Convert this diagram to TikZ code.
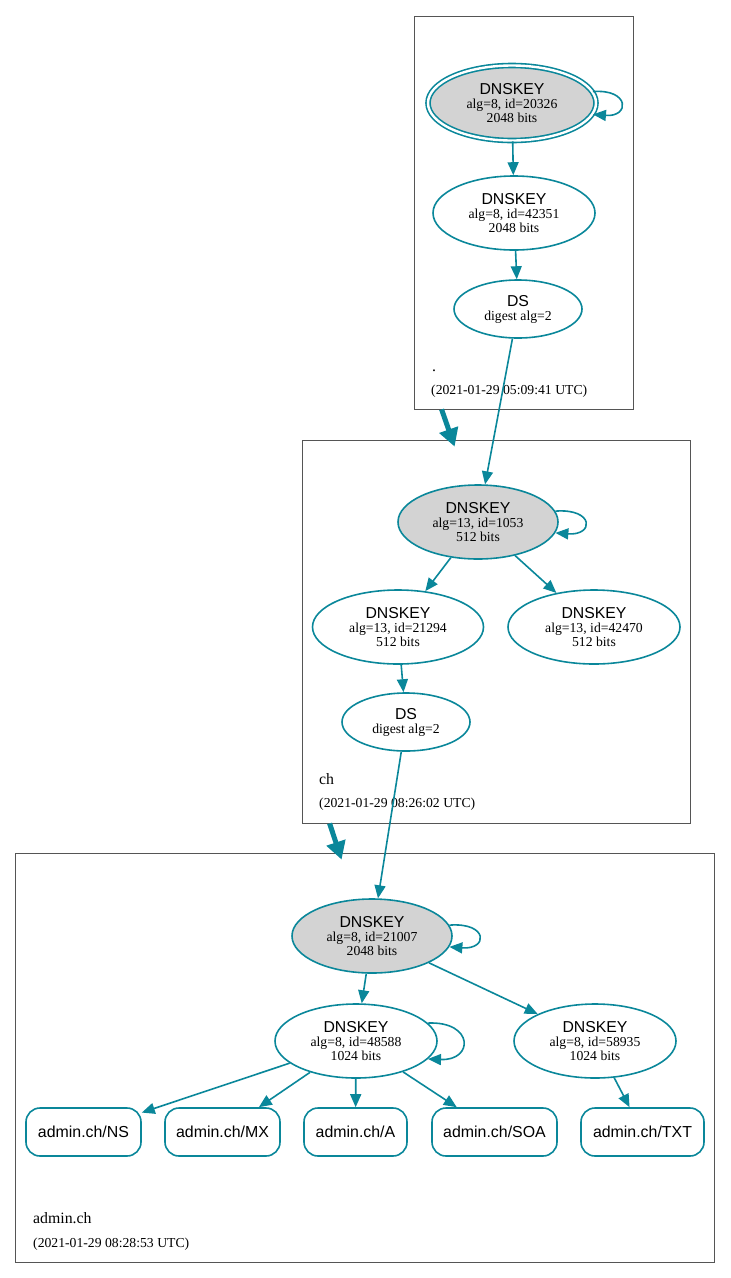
\documentclass[tikz,border=0pt]{standalone}
\usepackage{fontspec}
\setmainfont{Liberation Serif}
\newfontfamily\hv{Liberation Sans}
\usetikzlibrary{shapes.geometric,arrows.meta,calc}
\definecolor{dteal}{HTML}{0A879A}
\definecolor{kgray}{HTML}{D3D3D3}
\definecolor{cgray}{HTML}{555555}
\newcommand{\kt}[2]{{\hv\fontsize{15.8}{16}\selectfont DNSKEY}\\[0.4pt] #1\\ #2}
\newcommand{\dt}{{\hv\fontsize{15.8}{16}\selectfont DS}\\[0.4pt] digest alg=2}
\tikzset{
  key/.style={ellipse, draw=dteal, line width=1.6pt, inner sep=0pt, align=center,
    font=\fontsize{13.7}{13.6}\selectfont},
  ksk/.style={key, fill=kgray},
  rec/.style={rectangle, rounded corners=14pt, draw=dteal, line width=1.6pt,
    minimum height=48pt, inner sep=0pt, font=\hv\fontsize{15.9}{16}\selectfont},
  edge/.style={draw=dteal, line width=1.6pt, -{Triangle[length=13pt,width=11pt]}},
  zoneedge/.style={draw=dteal, line width=5pt, -{Triangle[length=18pt,width=19pt]}},
  cluster/.style={draw=cgray, line width=0.8pt, rectangle, inner sep=0pt},
  zlabel/.style={anchor=base west, inner sep=0pt, font=\fontsize{15.8}{16}\selectfont},
  ztime/.style={anchor=base west, inner sep=0pt, font=\fontsize{13.7}{14}\selectfont}
}
\begin{document}
\begin{tikzpicture}[x=1pt,y=-1pt]
\useasboundingbox (0,0) rectangle (731,1278);
% clusters
\node[cluster, minimum width=219pt, minimum height=393pt] (c1) at (523.5,212.5) {};
\node[cluster, minimum width=388pt, minimum height=383pt] (c2) at (496,631.5) {};
\node[cluster, minimum width=699pt, minimum height=409pt] (c3) at (364.5,1057.5) {};
% cluster labels
\node[zlabel] (l1) at (432,371) {.};
\node[ztime] (t1) at (431,394) {(2021-01-29 05:09:41 UTC)};
\node[zlabel] (l2) at (319,784) {ch};
\node[ztime] (t2) at (319,807) {(2021-01-29 08:26:02 UTC)};
\node[zlabel] (l3) at (33,1223) {admin.ch};
\node[ztime] (t3) at (33,1247) {(2021-01-29 08:28:53 UTC)};
% root zone
\node[ksk, double=white, double distance=2.4pt, minimum width=168pt, minimum height=75pt] (r1) at (512,103) {\kt{alg=8, id=20326}{2048 bits}};
\node[key, minimum width=162pt, minimum height=74pt] (r2) at (514,213) {\kt{alg=8, id=42351}{2048 bits}};
\node[key, minimum width=128pt, minimum height=58pt] (r3) at (518,309) {\dt};
% ch zone
\node[ksk, minimum width=160pt, minimum height=74pt] (h1) at (478,522) {\kt{alg=13, id=1053}{512 bits}};
\node[key, minimum width=171pt, minimum height=74pt] (h2) at (398,627) {\kt{alg=13, id=21294}{512 bits}};
\node[key, minimum width=172pt, minimum height=74pt] (h3) at (594,627) {\kt{alg=13, id=42470}{512 bits}};
\node[key, minimum width=128pt, minimum height=58pt] (h4) at (406,722) {\dt};
% admin.ch zone
\node[ksk, minimum width=160pt, minimum height=74pt] (a1) at (372,936) {\kt{alg=8, id=21007}{2048 bits}};
\node[key, minimum width=162pt, minimum height=74pt] (a2) at (356,1041) {\kt{alg=8, id=48588}{1024 bits}};
\node[key, minimum width=162pt, minimum height=74pt] (a3) at (595,1041) {\kt{alg=8, id=58935}{1024 bits}};
\node[rec, minimum width=115pt] (ns) at (83.5,1132) {admin.ch/NS};
\node[rec, minimum width=115pt] (mx) at (222.5,1132) {admin.ch/MX};
\node[rec, minimum width=103pt] (aa) at (355.5,1132) {admin.ch/A};
\node[rec, minimum width=125pt] (soa) at (494.5,1132) {admin.ch/SOA};
\node[rec, minimum width=123pt] (txt) at (642.5,1132) {admin.ch/TXT};
% edges
\draw[edge] (r1) -- (r2);
\draw[edge] (r2) -- (r3);
\draw[edge] (r3) -- (h1);
\draw[edge] (h1) -- (h2);
\draw[edge] (h1) -- (h3);
\draw[edge] (h2) -- (h4);
\draw[edge] (h4) -- (a1);
\draw[edge] (a1) -- (a2);
\draw[edge] (a1) -- (a3);
\draw[edge] (a2) -- (ns);
\draw[edge] (a2) -- (mx);
\draw[edge] (a2) -- (aa);
\draw[edge] (a2) -- (soa);
\draw[edge] (a3) -- (txt);
% self loops
\draw[edge] (r1.8) .. controls +(37,-3) and +(37,3) .. (r1.-8);
\draw[edge] (h1.8) .. controls +(39,-3) and +(39,3) .. (h1.-8);
\draw[edge] (a1.8) .. controls +(39,-3) and +(39,3) .. (a1.-8);
\draw[edge] (a2.14) .. controls +(46,-2) and +(46,2) .. (a2.-14);
% zone delegation arrows
\draw[zoneedge] ($(c1.south west)+(28,0)$) -- ($(c2.north west)+(153,7)$);
\draw[zoneedge] ($(c2.south west)+(28,0)$) -- ($(c3.north west)+(327,7)$);
\end{tikzpicture}
\end{document}
